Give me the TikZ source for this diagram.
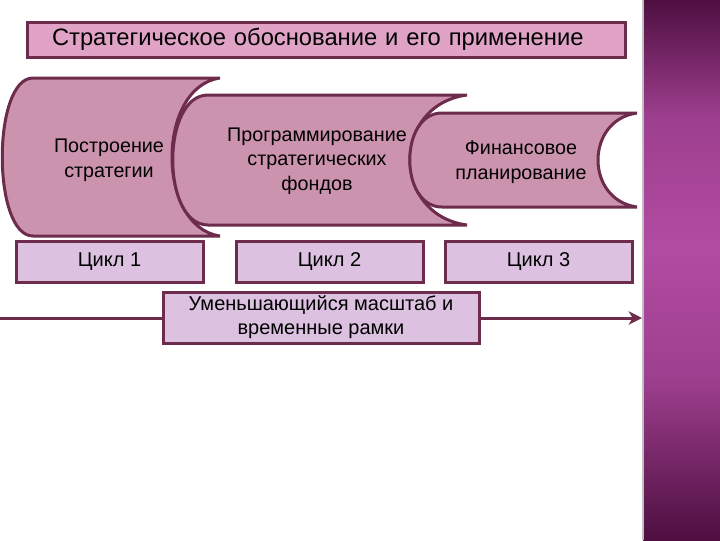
\documentclass[tikz,border=0pt]{standalone}
\usepackage{fontspec}
\setmainfont{Liberation Sans}
\usetikzlibrary{arrows.meta}
\definecolor{framec}{HTML}{6E2C4C}
\definecolor{titlefill}{HTML}{E0A3C6}
\definecolor{scrollfill}{HTML}{CC93AE}
\definecolor{cyclefill}{HTML}{DCC1E0}
\definecolor{paneldark}{HTML}{4E0F40}
\definecolor{panelmid}{HTML}{B24BA2}
\pgfdeclareverticalshading{panelshade}{100bp}{color(0bp)=(paneldark); color(25bp)=(paneldark); color(40bp)=(panelmid!80!paneldark); color(52bp)=(panelmid); color(64bp)=(panelmid!80!paneldark); color(75bp)=(paneldark); color(100bp)=(paneldark)}
\tikzset{every picture/.style={line width=0.75pt}}
\tikzset{
  scroll/.style={draw=framec, fill=scrollfill, line width=2.25pt, line join=miter},
  scrolltext/.style={align=center, font=\fontsize{14.8}{18.4}\selectfont, inner sep=0.75pt},
  cyclebox/.style={draw=framec, fill=cyclefill, line width=2.25pt, inner sep=0pt,
    minimum width=140.25pt, minimum height=30.75pt, font=\fontsize{15}{18}\selectfont},
}

\begin{document}
\begin{tikzpicture}[x=0.75pt,y=0.75pt,yscale=-1,xscale=1]
	\useasboundingbox (0,0) rectangle (720,540);
	\fill[white] (0,0) rectangle (720,540);
	
	%Shape: right panel
	\shade[shading=panelshade] (643,0) rectangle (720,540);
	\draw[gray!50, line width=1pt] (643,0) -- (643,540);
	
	% Title
	\node (title) [draw=framec, fill=titlefill, line width=2.25pt, inner xsep=18.75pt, inner ysep=0pt,
	  text width=411pt, minimum height=26.25pt, align=left, font=\fontsize{17.8}{20}\selectfont]
	  at (326,39.5) {Стратегическое обоснование и его применение};
	
	%Shape: scroll 1
	\draw[scroll] (33,78) -- (220,78) .. controls (156,87) and (156,227) .. (220,236) -- (33,236) .. controls (-8,236) and (-8,78) .. cycle;
	%Shape: scroll 2
	\draw[scroll] (208,95) -- (467,95) .. controls (391,105) and (391,215) .. (467,225) -- (208,225) .. controls (161,225) and (161,95) .. cycle;
	%Shape: scroll 3
	\draw[scroll] (442,113) -- (637,113) .. controls (585,120) and (585,200) .. (637,207) -- (442,207) .. controls (399,207) and (399,113) .. cycle;
	
	% Text Node
	\node (build) [scrolltext] at (109,160) {Построение\\стратегии};
	% Text Node
	\node (program) [scrolltext] at (317,161) {Программирование\\стратегических\\фондов};
	% Text Node
	\node (finance) [scrolltext] at (521,162) {Финансовое\\планирование};
	
	% Cycles
	\node (cycle1) [cyclebox] at (109.5,261.5) {Цикл 1};
	\node (cycle2) [cyclebox] at (329.5,261.5) {Цикл 2};
	\node (cycle3) [cyclebox] at (538.5,261.5) {Цикл 3};
	
	%Straight Lines: time axis
	\coordinate (axisstart) at (0,318);
	\coordinate (axisend) at (642,318);
	\draw[framec, line width=2.25pt, -{Stealth[length=10pt,width=10pt,inset=3pt]}] (axisstart) -- (axisend);
	
	\node (scale) [cyclebox, minimum width=237pt, minimum height=38.25pt, align=center]
	  at (321,317.5) {Уменьшающийся масштаб и\\временные рамки};
	
\end{tikzpicture}
\end{document}
